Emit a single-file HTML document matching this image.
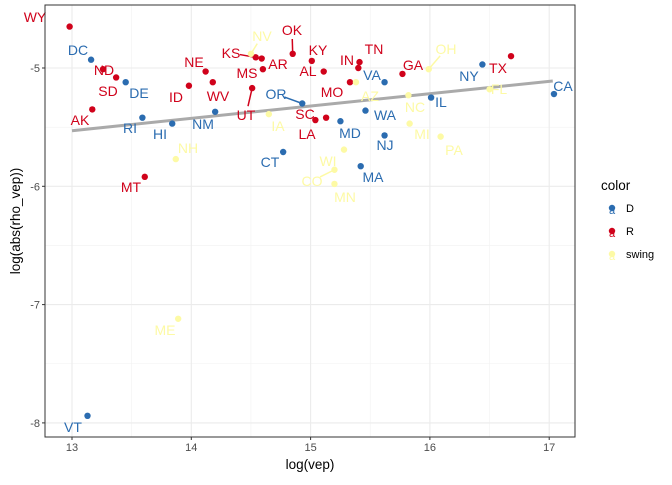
<!DOCTYPE html>
<html><head><meta charset="utf-8"><style>
body{margin:0;background:#fff;font-family:"Liberation Sans",sans-serif}
svg text{font-family:"Liberation Sans",sans-serif}
</style></head><body>
<svg id="chart" width="672" height="480"></svg>
<script>
const states=["WY","DC","ND","SD","DE","AK","RI","HI","NM","NE","ID","WV","NH","MT","KS","AR","MS","NV","OK","UT","IA","CT","OR","SC","KY","AL","IN","TN","MO","AZ","VA","GA","OH","NY","TX","FL","CA","IL","NC","WA","LA","MD","MI","NJ","PA","WI","CO","MA","MN","ME","VT"];
const groups=["R","D","R","R","D","R","D","D","D","R","R","R","swing","R","R","R","R","swing","R","R","swing","D","D","R","R","R","R","R","R","swing","D","R","swing","D","R","swing","D","D","swing","D","R","D","swing","D","swing","swing","swing","D","swing","swing","D"];
const logVep=[12.98,13.16,13.26,13.37,13.45,13.17,13.59,13.84,14.20,14.12,13.98,14.18,13.87,13.61,14.54,14.59,14.60,14.50,14.85,14.51,14.65,14.77,14.93,15.04,15.01,15.11,15.41,15.40,15.33,15.38,15.62,15.77,15.99,16.44,16.68,16.50,17.04,16.01,15.82,15.46,15.13,15.25,15.83,15.62,16.09,15.28,15.20,15.42,15.20,13.89,13.13];
const logRho=[-4.65,-4.93,-5.01,-5.08,-5.12,-5.35,-5.42,-5.47,-5.37,-5.03,-5.15,-5.12,-5.77,-5.92,-4.91,-4.92,-5.01,-4.88,-4.88,-5.17,-5.39,-5.71,-5.30,-5.44,-4.94,-5.03,-4.95,-5.00,-5.12,-5.12,-5.12,-5.05,-5.01,-4.97,-4.90,-5.18,-5.22,-5.25,-5.23,-5.36,-5.42,-5.45,-5.47,-5.57,-5.58,-5.69,-5.86,-5.83,-5.98,-7.12,-7.94];
const labelPos=[[35,17],[78,50],[104,70],[108,91],[139,93],[80,120],[130,128],[160,134],[203,124],[194,62],[176,97],[218,96],[188,148],[131,187],[231,53],[278,64],[247,73],[262,36],[292,30],[246,115],[278,126],[270,162],[276,94],[305,114],[318,50],[308,71],[347,60],[374,49],[332,92],[370,96],[372,75],[413,65],[446,49],[469,76],[498,68],[499,89],[563,86],[441,102],[415,107],[385,115],[307,134],[350,133],[422,134],[385,145],[454,150],[328,161],[312,181],[373,177],[345,197],[165,330],[73,427]];
const connected=["KS","NV","OK","UT","OR","OH","CO"];
const xTicks=[13,14,15,16,17];
const yTicks=[-5,-6,-7,-8];
const trendX=[13,17.03];
const trendY=[-5.53,-5.11];
const colors={D:"#2b6cb0",R:"#d0021b",swing:"#fdfaa5"};
const legendKeys=["D","R","swing"];
const svg=document.getElementById('chart');
const NS="http://www.w3.org/2000/svg";
const L=45,R=575,T=5,B=437;
const sx=v=>72+(v-13)*119.3;
const sy=v=>68-(v+5)*118.3;
function mk(tag,attrs,parent){const e=document.createElementNS(NS,tag);for(const k in attrs)e.setAttribute(k,attrs[k]);(parent||svg).appendChild(e);return e;}
const bg=mk('rect',{x:L,y:T,width:R-L,height:B-T,fill:'#fff'});


for(let i=0;i<xTicks.length-1;i++){const v=(xTicks[i]+xTicks[i+1])/2;const g=mk('line',{x1:sx(v),x2:sx(v),y1:T,y2:B,stroke:'#f2f2f2','stroke-width':0.6});}
for(let i=0;i<yTicks.length-1;i++){const v=(yTicks[i]+yTicks[i+1])/2;const g=mk('line',{x1:L,x2:R,y1:sy(v),y2:sy(v),stroke:'#f2f2f2','stroke-width':0.6});}
xTicks.forEach(v=>{const g=mk('line',{x1:sx(v),x2:sx(v),y1:T,y2:B,stroke:'#ebebeb','stroke-width':1.1});
const t=mk('line',{x1:sx(v),x2:sx(v),y1:B,y2:B+3,stroke:'#333'});
const l=mk('text',{x:sx(v),y:B+14,'text-anchor':'middle','font-size':11,fill:'#4d4d4d'});l.textContent=v;});
yTicks.forEach(v=>{const g=mk('line',{x1:L,x2:R,y1:sy(v),y2:sy(v),stroke:'#ebebeb','stroke-width':1.1});
const t=mk('line',{x1:L-3,x2:L,y1:sy(v),y2:sy(v),stroke:'#333'});
const l=mk('text',{x:L-5,y:sy(v)+4,'text-anchor':'end','font-size':11,fill:'#4d4d4d'});l.textContent=v;});
const tl=mk('line',{x1:sx(trendX[0]),y1:sy(trendY[0]),x2:sx(trendX[1]),y2:sy(trendY[1]),stroke:'#aaa','stroke-width':3});


states.forEach((s,i)=>{
const px=sx(logVep[i]),py=sy(logRho[i]);const c=colors[groups[i]];
const [lx,ly]=labelPos[i];
const d=Math.hypot(lx-px,ly-py);
if(connected.includes(s)&&d>10){const seg=mk('line',{x1:px,y1:py,x2:lx+(px-lx)*9/d,y2:ly+(py-ly)*9/d,stroke:c,'stroke-width':1.5});}
const p=mk('circle',{cx:px,cy:py,r:3.2,fill:c});


const t=mk('text',{x:lx,y:ly+5,'text-anchor':'middle','font-size':14,fill:c});t.textContent=s;


});
const fr=mk('rect',{x:L,y:T,width:R-L,height:B-T,fill:'none',stroke:'#333','stroke-width':1});


const xt=mk('text',{x:(L+R)/2,y:469,'text-anchor':'middle','font-size':13.5,fill:'#000'});xt.textContent='log(vep)';


const yt=mk('text',{x:0,y:0,'text-anchor':'middle','font-size':13.5,fill:'#000',transform:`translate(20,${(T+B)/2}) rotate(-90)`});yt.textContent='log(abs(rho_vep))';


const lt=mk('text',{x:601,y:190,'font-size':13.5,fill:'#000'});lt.textContent='color';


legendKeys.forEach((k,i)=>{const y=208+i*23;
const d=mk('circle',{cx:612,cy:y,r:3.2,fill:colors[k]});
const a=mk('text',{x:612,y:y+6,'text-anchor':'middle','font-size':11,fill:colors[k]});a.textContent='a';
const t=mk('text',{x:626,y:y+4,'font-size':11,fill:'#000'});t.textContent=k;});
</script>
</body></html>
